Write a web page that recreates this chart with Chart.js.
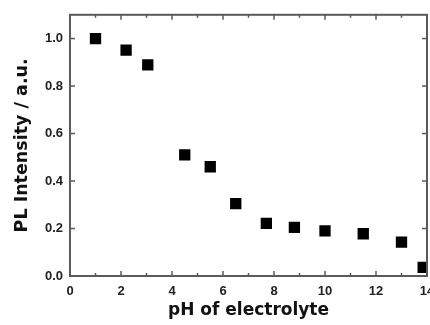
<!DOCTYPE html>
<html>
<head>
<meta charset="utf-8">
<script src="https://cdn.jsdelivr.net/npm/chart.js@4/dist/chart.umd.min.js"></script>
<style>
  html, body { margin: 0; padding: 0; background: #fff; }
  #wrap { width: 430px; height: 325px; }
</style>
</head>
<body>
<div id="wrap"><canvas id="c" width="430" height="325"></canvas></div>
<script>
// pH values and normalised PL intensity
const phValues = [1.0, 2.2, 3.05, 4.5, 5.5, 6.5, 7.7, 8.8, 10.0, 11.5, 13.0, 13.85];
const plIntensity = [1.0, 0.951, 0.889, 0.51, 0.46, 0.305, 0.222, 0.205, 0.19, 0.178, 0.143, 0.036];

const xMajorTicks = [0, 2, 4, 6, 8, 10, 12, 14];
const xMinorTicks = [1, 3, 5, 7, 9, 11, 13];
const yMajorTicks = [0, 0.2, 0.4, 0.6, 0.8, 1.0];

const frameColor = '#5a5a5a';

// frame box + inward ticks on all four sides
const framePlugin = {
    id: 'frame',
    afterDatasetsDraw(chart) {
        const { ctx, chartArea: a, scales } = chart;
        ctx.save();
        ctx.strokeStyle = frameColor;
        ctx.lineWidth = 1.5;
        const tick = (x1, y1, x2, y2) => {
            ctx.beginPath();
            ctx.moveTo(x1, y1);
            ctx.lineTo(x2, y2);
            ctx.stroke();
        };
        xMajorTicks.concat(xMinorTicks).forEach(v => {
            const x = scales.x.getPixelForValue(v);
            const len = xMajorTicks.includes(v) ? 5 : 3;
            tick(x, a.bottom, x, a.bottom - len);
            tick(x, a.top, x, a.top + len);
        });
        yMajorTicks.forEach(v => {
            const y = scales.y.getPixelForValue(v);
            tick(a.left, y, a.left + 5, y);
            tick(a.right, y, a.right - 5, y);
        });
        ctx.lineWidth = 2;
        ctx.strokeRect(a.left, a.top, a.right - a.left, a.bottom - a.top);
        ctx.restore();
    }
};

const chart = new Chart(document.getElementById('c'), {
    type: 'scatter',
    data: {
        datasets: [{
            data: phValues.map((x, i) => ({ x: x, y: plIntensity[i] })),
            pointStyle: 'rect',
            pointRadius: 8,
            pointHoverRadius: 8,
            backgroundColor: '#000',
            borderColor: '#000',
            borderWidth: 0,
            clip: 0
        }]
    },
    options: {
        responsive: false,
        animation: false,
        layout: {
            autoPadding: false,
            padding: { top: 13, right: 3, left: 0, bottom: 0 }
        },
        plugins: {
            legend: { display: false },
            tooltip: { enabled: false }
        },
        scales: {
            x: {
                type: 'linear',
                min: 0,
                max: 14,
                border: { display: false },
                grid: { display: false, drawTicks: false },
                ticks: {
                    stepSize: 2,
                    padding: 8,
                    color: '#222',
                    font: { family: 'Liberation Sans', size: 13, weight: 'bold' }
                },
                title: {
                    display: true,
                    text: 'pH of electrolyte',
                    color: '#111',
                    padding: { top: 0, bottom: 4 },
                    font: { family: 'DejaVu Sans', size: 17, weight: 'bold' }
                },
                afterFit(scale) {
                    scale.height = 49;
                    // let the last tick label run off the canvas like the original
                    scale.paddingRight = 0;
                }
            },
            y: {
                min: 0,
                max: 1.1,
                border: { display: false },
                grid: { display: false, drawTicks: false },
                afterBuildTicks(scale) {
                    scale.ticks = yMajorTicks.map(v => ({ value: v }));
                },
                ticks: {
                    padding: 7,
                    color: '#222',
                    font: { family: 'Liberation Sans', size: 13, weight: 'bold' },
                    callback: v => v.toFixed(1)
                },
                title: {
                    display: true,
                    text: 'PL Intensity / a.u.',
                    color: '#111',
                    padding: { top: 12, bottom: 0 },
                    font: { family: 'DejaVu Sans', size: 17.5, weight: 'bold' }
                },
                afterFit(scale) { scale.width = 70; }
            }
        }
    },
    plugins: [framePlugin]
});
</script>
</body>
</html>
